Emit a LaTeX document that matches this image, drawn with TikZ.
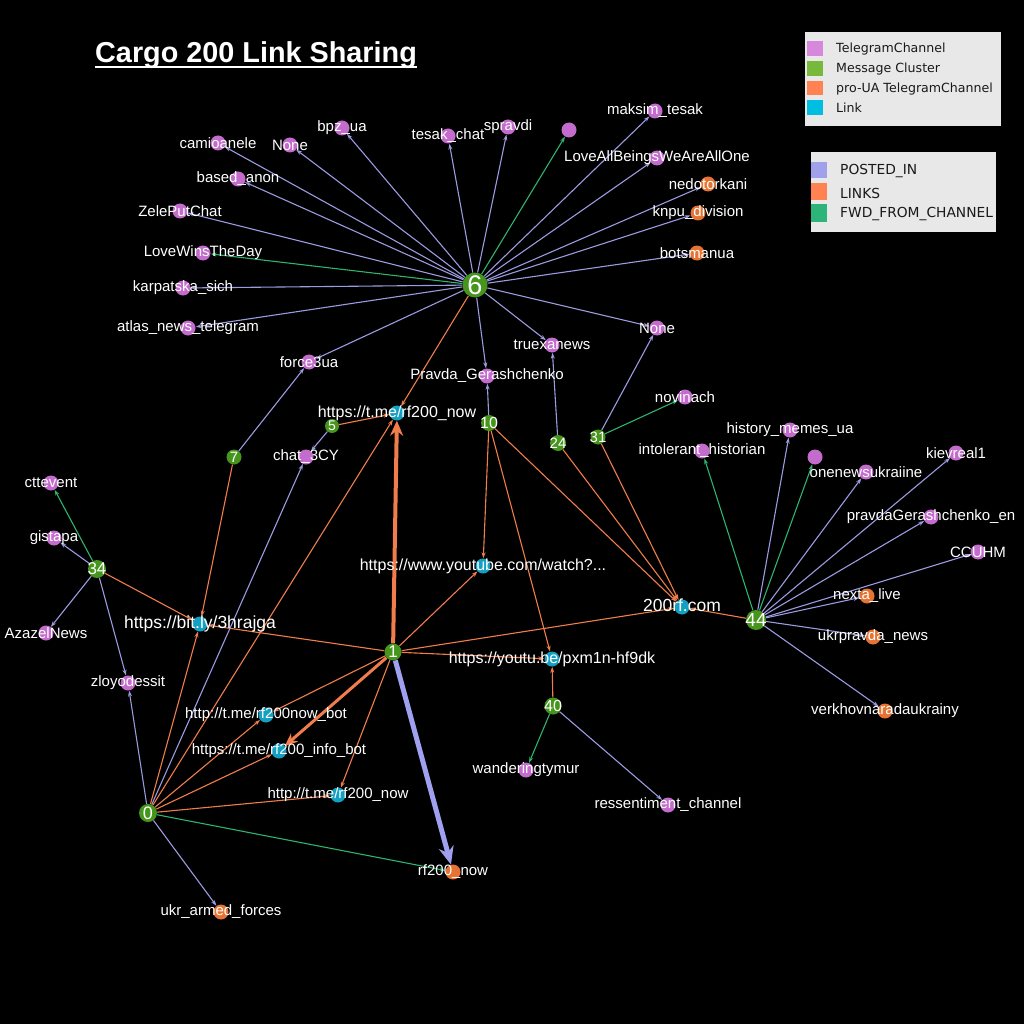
\documentclass[tikz,border=0pt]{standalone}
\usepackage{fontspec}
\setmainfont{Liberation Sans}
\newfontfamily\legfont{DejaVu Sans}
\usetikzlibrary{arrows.meta}
\pgfdeclarelayer{bgl}
\pgfdeclarelayer{edgel}
\pgfsetlayers{bgl,edgel,main}
\definecolor{chp}{RGB}{195,108,205}
\definecolor{pua}{RGB}{230,115,50}
\definecolor{lnk}{RGB}{20,160,195}
\definecolor{clg}{RGB}{70,150,30}
\definecolor{elav}{RGB}{155,155,225}
\definecolor{elavt}{RGB}{160,160,240}
\definecolor{eor}{RGB}{240,125,75}
\definecolor{egr}{RGB}{45,180,110}
\definecolor{leggray}{RGB}{232,232,232}
\definecolor{lgp}{RGB}{215,135,220}
\definecolor{lgg}{RGB}{120,185,60}
\definecolor{lgo}{RGB}{255,130,80}
\definecolor{lgc}{RGB}{0,190,225}
\definecolor{lgl}{RGB}{160,160,235}
\definecolor{lgf}{RGB}{45,180,120}
\tikzset{
  nd/.style={circle, inner sep=0pt, minimum size=15pt},
  ch/.style={nd, fill=chp},
  pu/.style={nd, fill=pua},
  ln/.style={nd, fill=lnk},
  cl/.style={circle, inner sep=0pt, fill=clg},
  lb/.style={text=white, inner sep=0pt, font=\fontsize{15}{15}\selectfont},
  ct/.style={text=white, inner sep=0pt},
  eP/.style={draw=elav, line width=1.1pt, -{Stealth[length=6pt,width=4pt]}},
  eL/.style={draw=eor, line width=1.1pt, -{Stealth[length=6pt,width=4pt]}},
  eF/.style={draw=egr, line width=1.1pt, -{Stealth[length=6pt,width=4pt]}},
  legtxt/.style={anchor=west, inner sep=0pt, text=black!90, font=\legfont\fontsize{12.6}{13}\selectfont},
  legtxtb/.style={anchor=west, inner sep=0pt, text=black!90, font=\legfont\fontsize{13.8}{14}\selectfont}
}
\begin{document}
\begin{tikzpicture}[x=1pt,y=-1pt]
\useasboundingbox (0,0) rectangle (1024,1024);
\begin{pgfonlayer}{bgl}
\fill[black] (0,0) rectangle (1024,1024);
\end{pgfonlayer}

% title
\node[anchor=base west, inner sep=0pt, text=white, font=\bfseries\fontsize{28.8}{30}\selectfont] (title) at (95,63) {Cargo 200 Link Sharing};
\draw[white, line width=2pt] ([yshift=-4pt]title.base west) -- ([yshift=-4pt]title.base east);

% legends
\node[fill=leggray, inner sep=0pt, minimum width=196pt, minimum height=94pt, anchor=north west] (leg1) at (805,32) {};
\fill[lgp] (807,41) rectangle (823,56);
\fill[lgg] (807,61) rectangle (823,76);
\fill[lgo] (807,81) rectangle (823,95);
\fill[lgc] (807,100) rectangle (823,115);
\node[legtxt] (l1a) at (836,49) {TelegramChannel};
\node[legtxt] (l1b) at (836,69) {Message Cluster};
\node[legtxt] (l1c) at (836,89) {pro-UA TelegramChannel};
\node[legtxt] (l1d) at (836,108) {Link};
\node[fill=leggray, inner sep=0pt, minimum width=185pt, minimum height=80pt, anchor=north west] (leg2) at (811,152) {};
\fill[lgl] (811,162) rectangle (827,178);
\fill[lgo] (811,183) rectangle (827,200);
\fill[lgf] (811,204) rectangle (827,222);
\node[legtxtb] (l2a) at (840,171) {POSTED\_IN};
\node[legtxtb] (l2b) at (840,193) {LINKS};
\node[legtxtb] (l2c) at (840,214) {FWD\_FROM\_CHANNEL};

% channels (purple)
\node[ch, label={[lb]center:camioanele}] (cam) at (218,143) {};
\node[ch, label={[lb]center:None}] (noneL) at (290,145) {};
\node[ch, label={[lb]center:bpz\_ua}] (bpz) at (342,128) {};
\node[ch, label={[lb]center:based\_anon}] (based) at (238,179) {};
\node[ch, label={[lb]center:ZelePutChat}] (zele) at (180,211) {};
\node[ch, label={[lb]center:LoveWinsTheDay}] (lovewins) at (203,253) {};
\node[ch, label={[lb]center:karpatska\_sich}] (karp) at (183,288) {};
\node[ch, label={[lb]center:atlas\_news\_telegram}] (atlas) at (188,328) {};
\node[ch, label={[lb]center:force3ua}] (force) at (309,362) {};
\node[ch, label={[lb]center:tesak\_chat}] (tesak) at (448,136) {};
\node[ch, label={[lb]center:{\raisebox{3pt}{spravdi}}}] (spravdi) at (508,127) {};
\node[ch] (unk1) at (569,130) {};
\node[ch, label={[lb]center:maksim\_tesak}] (maksim) at (655,111) {};
\node[ch, label={[lb]center:LoveAllBeingsWeAreAllOne}] (loveall) at (657,158) {};
\node[ch, label={[lb]center:None}] (noneR) at (657,328) {};
\node[ch, label={[lb]center:truexanews}] (truex) at (552,345) {};
\node[ch, label={[lb]center:Pravda\_Gerashchenko}] (pravda) at (487,376) {};
\node[ch, label={[lb]center:chat\_3CY}] (chat) at (306,457) {};
\node[ch, label={[lb]center:novinach}] (novinach) at (685,397) {};
\node[ch, label={[lb]center:history\_memes\_ua}] (histm) at (790,430) {};
\node[ch, label={[lb]center:intolerant\_historian}] (intol) at (702,451) {};
\node[ch] (unk2) at (815,457) {};
\node[ch, label={[lb]center:onenewsukraiine}] (onenews) at (866,472) {};
\node[ch, label={[lb]center:kievreal1}] (kiev) at (956,453) {};
\node[ch, label={[lb]center:pravdaGerashchenko\_en}] (pravdaen) at (931,517) {};
\node[ch, label={[lb]center:CCUHM}] (ccuhm) at (978,552) {};
\node[ch, label={[lb]center:cttevent}] (ctt) at (51,483) {};
\node[ch, label={[lb]center:gistapa}] (gist) at (54,538) {};
\node[ch, label={[lb]center:AzazelNews}] (azazel) at (46,633) {};
\node[ch, label={[lb]center:zloyodessit}] (zloy) at (128,683) {};
\node[ch, label={[lb]center:wanderingtymur}] (wander) at (526,770) {};
\node[ch, label={[lb]center:ressentiment\_channel}] (ressent) at (668,805) {};

% pro-UA channels (orange)
\node[pu, label={[lb]center:nedotorkani}] (nedo) at (708,184) {};
\node[pu, label={[lb]center:knpu\_division}] (knpu) at (698,213) {};
\node[pu, label={[lb]center:botsmanua}] (bots) at (697,253) {};
\node[pu, label={[lb]center:nexta\_live}] (nexta) at (867,596) {};
\node[pu, label={[lb]center:ukrpravda\_news}] (ukrp) at (873,637) {};
\node[pu, label={[lb]center:verkhovnaradaukrainy}] (verkh) at (885,711) {};
\node[pu, label={[lb]center:rf200\_now}] (rfnow) at (453,872) {};
\node[pu, label={[lb]center:ukr\_armed\_forces}] (ukrarm) at (221,912) {};

% links (cyan)
\node[ln, label={[lb, font=\fontsize{16}{16}\selectfont]center:{https://t.me/rf200\_now}}] (tme) at (397,413) {};
\node[ln, label={[lb, font=\fontsize{16}{16}\selectfont]center:{https://www.youtube.com/watch?...}}] (ytw) at (483,566) {};
\node[ln, label={[lb, font=\fontsize{17.5}{17.5}\selectfont]center:{\raisebox{3pt}{200rf.com}}}] (rfcom) at (682,607) {};
\node[ln, label={[lb, font=\fontsize{17.5}{17.5}\selectfont]center:{https://bit.ly/3hrajga}}] (bitly) at (200,624) {};
\node[ln, label={[lb, font=\fontsize{16}{16}\selectfont]center:{https://youtu.be/pxm1n-hf9dk}}] (ytb) at (552,659) {};
\node[ln, label={[lb]center:{http://t.me/rf200now\_bot}}] (nowbot) at (266,715) {};
\node[ln, label={[lb]center:{https://t.me/rf200\_info\_bot}}] (infobot) at (279,751) {};
\node[ln, label={[lb]center:{http://t.me/rf200\_now}}] (httpnow) at (338,795) {};

% clusters (green)
\node[cl, minimum size=25pt, label={[ct, font=\fontsize{27}{27}\selectfont]center:6}] (six) at (475,285) {};
\node[cl, minimum size=14pt, label={[ct, font=\fontsize{14}{14}\selectfont]center:5}] (five) at (332,426) {};
\node[cl, minimum size=16pt, label={[ct, font=\fontsize{16}{16}\selectfont]center:10}] (ten) at (489,423) {};
\node[cl, minimum size=16pt, label={[ct, font=\fontsize{15}{15}\selectfont]center:24}] (tfour) at (558,443) {};
\node[cl, minimum size=15pt, label={[ct, font=\fontsize{15}{15}\selectfont]center:31}] (tone) at (598,437) {};
\node[cl, minimum size=15pt, label={[ct, font=\fontsize{15}{15}\selectfont]center:7}] (seven) at (234,457) {};
\node[cl, minimum size=18pt, label={[ct, font=\fontsize{17}{17}\selectfont]center:34}] (tf) at (97,569) {};
\node[cl, minimum size=17pt, label={[ct, font=\fontsize{17}{17}\selectfont]center:1}] (one) at (393,652) {};
\node[cl, minimum size=17pt, label={[ct, font=\fontsize{16}{16}\selectfont]center:40}] (forty) at (553,706) {};
\node[cl, minimum size=18pt, label={[ct, font=\fontsize{18}{18}\selectfont]center:0}] (zero) at (148,813) {};
\node[cl, minimum size=20pt, label={[ct, font=\fontsize{19}{19}\selectfont]center:44}] (ff) at (756,620) {};

\begin{pgfonlayer}{edgel}
% cluster 6
\foreach \t in {cam,noneL,bpz,based,zele,karp,atlas,force,tesak,spravdi,maksim,loveall,nedo,knpu,bots,noneR,truex,pravda}
  \draw[eP] (six) -- (\t);
\draw[eF] (six) -- (lovewins);
\draw[eF] (six) -- (unk1);
\draw[eL] (six) -- (tme);
% cluster 5
\draw[eL] (five) -- (tme);
\draw[eP] (five) -- (chat);
% cluster 7
\draw[eP] (seven) -- (force);
\draw[eL] (seven) -- (bitly);
% cluster 10
\draw[eP] (ten) -- (pravda);
\draw[eL] (ten) -- (ytw);
\draw[eL] (ten) -- (ytb);
\draw[eL] (ten) -- (rfcom);
% cluster 24
\draw[eP] (tfour) -- (truex);
\draw[eL] (tfour) -- (rfcom);
% cluster 31
\draw[eP] (tone) -- (noneR);
\draw[eF] (tone) -- (novinach);
\draw[eL] (tone) -- (rfcom);
% cluster 34
\draw[eF] (tf) -- (ctt);
\draw[eP] (tf) -- (gist);
\draw[eP] (tf) -- (azazel);
\draw[eP] (tf) -- (zloy);
\draw[eL] (tf) -- (bitly);
% cluster 1
\draw[eL] (one) -- (bitly);
\draw[eL] (one) -- (ytw);
\draw[eL] (one) -- (rfcom);
\draw[eL] (one) -- (ytb);
\draw[eL] (one) -- (nowbot);
\draw[eL] (one) -- (httpnow);
\draw[eL, line width=4pt, -{Stealth[length=15pt,width=13pt]}] (one) -- (tme);
\draw[eL, line width=3pt, -{Stealth[length=13pt,width=11pt]}] (one) -- (infobot);
\draw[draw=elavt, line width=5pt, -{Stealth[length=18pt,width=15pt]}] (one) -- (rfnow);
% cluster 0
\draw[eP] (zero) -- (zloy);
\draw[eL] (zero) -- (bitly);
\draw[eP] (zero) -- (chat);
\draw[eL] (zero) -- (tme);
\draw[eL] (zero) -- (nowbot);
\draw[eL] (zero) -- (infobot);
\draw[eL] (zero) -- (httpnow);
\draw[eF] (zero) -- (rfnow);
\draw[eP] (zero) -- (ukrarm);
% cluster 40
\draw[eL] (forty) -- (ytb);
\draw[eF] (forty) -- (wander);
\draw[eP] (forty) -- (ressent);
% cluster 44
\draw[eL] (ff) -- (rfcom);
\draw[eF] (ff) -- (intol);
\draw[eF] (ff) -- (unk2);
\foreach \t in {histm,onenews,kiev,pravdaen,ccuhm,nexta,ukrp,verkh}
  \draw[eP] (ff) -- (\t);
\end{pgfonlayer}
\end{tikzpicture}
\end{document}
